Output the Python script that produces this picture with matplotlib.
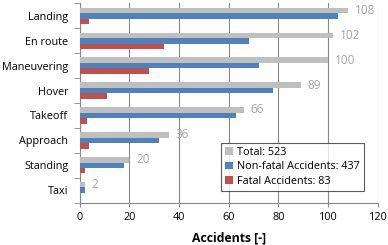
import matplotlib.pyplot as plt
import numpy as np

phases = ["Landing", "En route", "Maneuvering", "Hover", "Takeoff", "Approach", "Standing", "Taxi"]
total = [108, 102, 100, 89, 66, 36, 20, 2]
non_fatal = [104, 68, 72, 78, 63, 32, 18, 2]
fatal = [4, 34, 28, 11, 3, 4, 2, 0]
legend_labels = ["Total: 523", "Non-fatal Accidents: 437", "Fatal Accidents: 83"]

plt.rcParams['font.family'] = ['Open Sans', 'DejaVu Sans']

fig = plt.figure(figsize=(3.88, 2.45), dpi=100)
ax = fig.add_axes([0.205, 0.173, 0.769, 0.813])

y = np.arange(len(phases))
h = 0.22
ax.barh(y - h, total, height=h, color="#bfbfbf", label=legend_labels[0], zorder=3)
ax.barh(y, non_fatal, height=h, color="#4f81bd", label=legend_labels[1], zorder=3)
ax.barh(y + h, fatal, height=h, color="#c0504d", label=legend_labels[2], zorder=3)

for yi, v in zip(y, total):
    ax.annotate(str(v), (v, yi - h), xytext=(5, 0), textcoords="offset points",
                va="center", ha="left", color="#a6a6a6", fontsize=8.5)

ax.set_xlim(0, 120)
ax.set_ylim(len(phases) - 0.5, -0.5)
ax.set_xticks(range(0, 121, 20))
ax.set_yticks(np.arange(-0.5, len(phases), 1), minor=True)
ax.set_yticks(y)
ax.set_yticklabels(phases, fontsize=7.8)
ax.tick_params(axis="y", which="major", length=0, pad=8)
ax.tick_params(axis="y", which="minor", length=4, color="#888888")
ax.tick_params(axis="x", labelsize=7.8, length=3, pad=4, color="#888888")
ax.grid(axis="x", color="#888888", linewidth=0.8, zorder=0)
for s in ["top", "right"]:
    ax.spines[s].set_visible(False)
for s in ["left", "bottom"]:
    ax.spines[s].set_color("#888888")
ax.set_xlabel("Accidents [-]", fontsize=8.8, fontweight="bold", labelpad=6)

leg = ax.legend(loc="lower right", bbox_to_anchor=(0.954, 0.059), borderaxespad=0,
                fontsize=7.8, frameon=True, fancybox=False, edgecolor="#333333",
                handlelength=0.7, handleheight=0.7, handletextpad=0.4,
                borderpad=0.4, labelspacing=0.3)
leg.get_frame().set_linewidth(0.8)

fig.savefig("out.png", dpi=100)
